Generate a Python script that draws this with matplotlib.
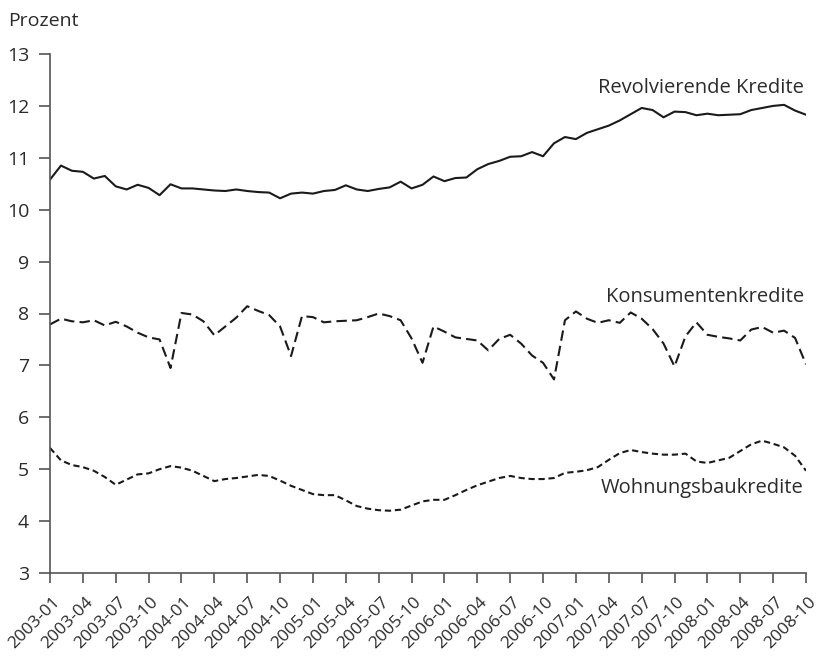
import matplotlib
matplotlib.use('agg')
import matplotlib.pyplot as plt
import matplotlib.transforms as mtransforms
import numpy as np

plt.rcParams['font.family'] = ['Open Sans', 'DejaVu Sans']

# monthly values 2003-01 .. 2008-10 (Prozent)
revolvierende = [10.58, 10.85, 10.75, 10.73, 10.60, 10.65, 10.45, 10.39, 10.48, 10.42,
                 10.28, 10.49, 10.41, 10.41, 10.39, 10.37, 10.36, 10.39, 10.36, 10.34,
                 10.33, 10.22, 10.31, 10.33, 10.31, 10.36, 10.38, 10.47, 10.39, 10.36,
                 10.40, 10.43, 10.54, 10.41, 10.48, 10.64, 10.55, 10.61, 10.62, 10.78,
                 10.88, 10.94, 11.02, 11.03, 11.11, 11.03, 11.28, 11.40, 11.36, 11.48,
                 11.55, 11.62, 11.72, 11.84, 11.96, 11.92, 11.78, 11.89, 11.88, 11.82,
                 11.85, 11.82, 11.83, 11.84, 11.92, 11.96, 12.00, 12.02, 11.91, 11.83]

konsumenten = [7.79, 7.90, 7.85, 7.83, 7.87, 7.77, 7.84, 7.75, 7.63, 7.54,
               7.50, 6.95, 8.01, 7.98, 7.85, 7.58, 7.75, 7.92, 8.14, 8.05,
               7.97, 7.75, 7.18, 7.95, 7.93, 7.83, 7.85, 7.86, 7.87, 7.93,
               8.00, 7.95, 7.87, 7.52, 7.05, 7.75, 7.65, 7.54, 7.51, 7.48,
               7.29, 7.51, 7.59, 7.42, 7.19, 7.05, 6.73, 7.87, 8.04, 7.90,
               7.82, 7.87, 7.82, 8.02, 7.90, 7.70, 7.42, 6.98, 7.56, 7.83,
               7.59, 7.55, 7.52, 7.48, 7.69, 7.74, 7.63, 7.67, 7.53, 7.02]

wohnungsbau = [5.41, 5.17, 5.08, 5.04, 4.97, 4.85, 4.70, 4.80, 4.90, 4.92,
               5.00, 5.06, 5.03, 4.97, 4.87, 4.77, 4.81, 4.83, 4.86, 4.89,
               4.87, 4.78, 4.68, 4.60, 4.52, 4.50, 4.50, 4.40, 4.29, 4.24,
               4.21, 4.20, 4.22, 4.30, 4.38, 4.41, 4.41, 4.50, 4.60, 4.69,
               4.76, 4.83, 4.87, 4.83, 4.81, 4.81, 4.83, 4.93, 4.95, 4.98,
               5.04, 5.18, 5.31, 5.37, 5.33, 5.30, 5.28, 5.28, 5.30, 5.15,
               5.12, 5.17, 5.22, 5.35, 5.48, 5.55, 5.49, 5.42, 5.26, 4.97]

tick_labels = ['2003-01', '2003-04', '2003-07', '2003-10',
               '2004-01', '2004-04', '2004-07', '2004-10',
               '2005-01', '2005-04', '2005-07', '2005-10',
               '2006-01', '2006-04', '2006-07', '2006-10',
               '2007-01', '2007-04', '2007-07', '2007-10',
               '2008-01', '2008-04', '2008-07', '2008-10']

months = np.arange(len(revolvierende))
axis_col = '#555555'
line_col = '#1a1a1a'
text_col = '#2b2b2b'

fig = plt.figure(figsize=(8.19, 6.61), dpi=100)
ax = fig.add_axes([50/819, 88/661, 756/819, 519/661])

ax.plot(months, revolvierende, color=line_col, lw=1.5)
ax.plot(months, konsumenten, color=line_col, lw=1.5, dashes=(5, 2.5))
ax.plot(months, wohnungsbau, color=line_col, lw=1.5, dashes=(3, 1.8))

ax.set_xlim(0, len(months) - 1)
ax.set_ylim(3, 13)
ax.set_yticks(range(3, 14))
ax.set_xticks(months[::3])
ax.set_xticklabels(tick_labels, rotation=45, ha='right', rotation_mode='anchor')

for s in ['top', 'right']:
    ax.spines[s].set_visible(False)
for s in ['left', 'bottom']:
    ax.spines[s].set_color(axis_col)
    ax.spines[s].set_linewidth(1.2)

ax.tick_params(axis='y', length=8, width=1.2, color=axis_col, pad=7,
               labelsize=14, labelcolor=text_col)
ax.tick_params(axis='x', length=7.5, width=1.2, color=axis_col, pad=4,
               labelsize=12.5, labelcolor=text_col)

# nudge the rotated labels right/down like in the original
# (after tick_params, which resets the label transforms)
shift = mtransforms.ScaledTranslation(2/100, -5/100, fig.dpi_scale_trans)
for lbl in ax.get_xticklabels():
    lbl.set_transform(lbl.get_transform() + shift)

ax.text(68.8, 12.25, 'Revolvierende Kredite', ha='right', va='baseline',
        fontsize=14.5, color=text_col)
ax.text(68.8, 8.23, 'Konsumentenkredite', ha='right', va='baseline',
        fontsize=14.5, color=text_col)
ax.text(68.8, 4.55, 'Wohnungsbaukredite', ha='right', va='baseline',
        fontsize=14.5, color=text_col)

fig.text(8/819, 635/661, 'Prozent', ha='left', va='baseline',
         fontsize=14, color=text_col)

fig.savefig('out.png', dpi=100)
